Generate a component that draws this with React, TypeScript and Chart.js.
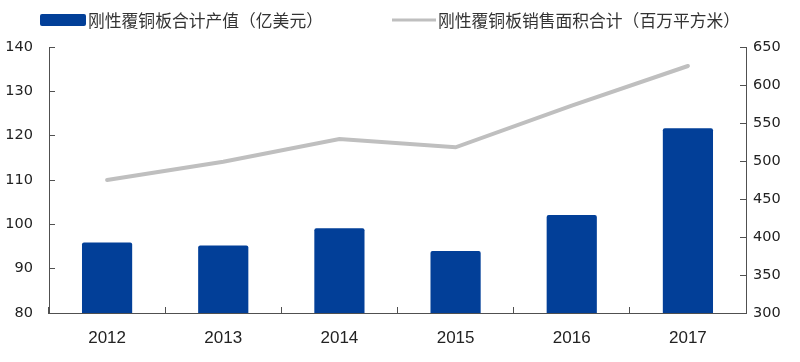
import React, { useEffect, useRef } from "react";
import { Chart, registerables } from "chart.js";

Chart.register(...registerables);

const categories = ["2012", "2013", "2014", "2015", "2016", "2017"];
const outputValue = [95.9, 95.2, 99.1, 94.0, 102.1, 121.7];
const salesArea = [475, 499, 529, 518, 573, 625];
const leftTicks = [80, 90, 100, 110, 120, 130, 140];
const rightTicks = [300, 350, 400, 450, 500, 550, 600, 650];
const seriesNames = ["刚性覆铜板合计产值（亿美元）", "刚性覆铜板销售面积合计（百万平方米）"];

const BAR_COLOR = "#023f98";
const LINE_COLOR = "#bfbfbf";
const AXIS_COLOR = "#505050";
const TEXT_COLOR = "#222222";

const legendPlugin = {
  id: "customLegend",
  afterDraw(chart: any) {
    const ctx = chart.ctx;
    ctx.save();
    ctx.font = '16.8px "Noto Sans CJK SC"';
    ctx.textBaseline = "middle";
    ctx.textAlign = "left";
    // bar item
    ctx.fillStyle = BAR_COLOR;
    ctx.beginPath();
    (ctx as any).roundRect(40, 14, 46, 12, 2);
    ctx.fill();
    ctx.fillStyle = "#333333";
    ctx.fillText(chart.data.datasets[0].label, 88, 20.5);
    // line item
    ctx.strokeStyle = LINE_COLOR;
    ctx.lineWidth = 3;
    ctx.beginPath();
    ctx.moveTo(392, 20);
    ctx.lineTo(436, 20);
    ctx.stroke();
    ctx.fillText(chart.data.datasets[1].label, 438, 20.5);
    ctx.restore();
  },
};

export default function App() {
  const ref = useRef<HTMLCanvasElement | null>(null);
  useEffect(() => {
    if (!ref.current) return;
    const chart = new Chart(ref.current, {
      type: "bar",
      data: {
        labels: categories,
        datasets: [
          {
            type: "bar",
            label: seriesNames[0],
            data: outputValue,
            backgroundColor: BAR_COLOR,
            borderRadius: 2,
            borderSkipped: "bottom",
            categoryPercentage: 1,
            barPercentage: 0.432,
            yAxisID: "y",
            order: 2,
          },
          {
            type: "line",
            label: seriesNames[1],
            data: salesArea,
            borderColor: LINE_COLOR,
            backgroundColor: LINE_COLOR,
            borderWidth: 4,
            pointRadius: 0,
            tension: 0,
            borderCapStyle: "round",
            yAxisID: "y1",
            order: 1,
          } as any,
        ],
      },
      options: {
        responsive: false,
        animation: false,
        layout: { padding: { top: 47, left: 0, right: 0, bottom: 0 } },
        plugins: {
          legend: { display: false },
          tooltip: { enabled: false },
        },
        scales: {
          x: {
            grid: {
              display: true,
              drawOnChartArea: false,
              drawTicks: true,
              tickLength: -6,
              color: AXIS_COLOR,
              offset: true,
            },
            border: { display: true, color: AXIS_COLOR, width: 1 },
            ticks: {
              color: TEXT_COLOR,
              font: { family: '"Liberation Sans"', size: 17 },
              padding: 21,
              maxRotation: 0,
            },
            afterFit(scale: any) {
              scale.height = 49;
            },
          },
          y: {
            position: "left",
            min: 80,
            max: 140,
            afterBuildTicks(scale: any) {
              scale.ticks = leftTicks.map((v) => ({ value: v }));
            },
            grid: {
              display: true,
              drawOnChartArea: false,
              drawTicks: true,
              tickLength: -6,
              color: AXIS_COLOR,
            },
            border: { display: true, color: AXIS_COLOR, width: 1 },
            ticks: {
              color: TEXT_COLOR,
              font: { family: '"DejaVu Sans"', size: 14.5 },
              padding: 22,
            },
            afterFit(scale: any) {
              scale.width = 49;
            },
          },
          y1: {
            position: "right",
            min: 300,
            max: 650,
            afterBuildTicks(scale: any) {
              scale.ticks = rightTicks.map((v) => ({ value: v }));
            },
            grid: {
              display: true,
              drawOnChartArea: false,
              drawTicks: true,
              tickLength: -6,
              color: AXIS_COLOR,
            },
            border: { display: true, color: AXIS_COLOR, width: 1 },
            ticks: {
              color: TEXT_COLOR,
              font: { family: '"DejaVu Sans"', size: 14.5 },
              padding: 13,
            },
            afterFit(scale: any) {
              scale.width = 54;
            },
          },
        },
      } as any,
      plugins: [legendPlugin],
    });
    return () => chart.destroy();
  }, []);
  return (
    <div style={{ position: "absolute", left: 0, top: 0, width: 800, height: 362, background: "#ffffff" }}>
      <canvas ref={ref} width={800} height={362} style={{ display: "block" }} />
    </div>
  );
}
